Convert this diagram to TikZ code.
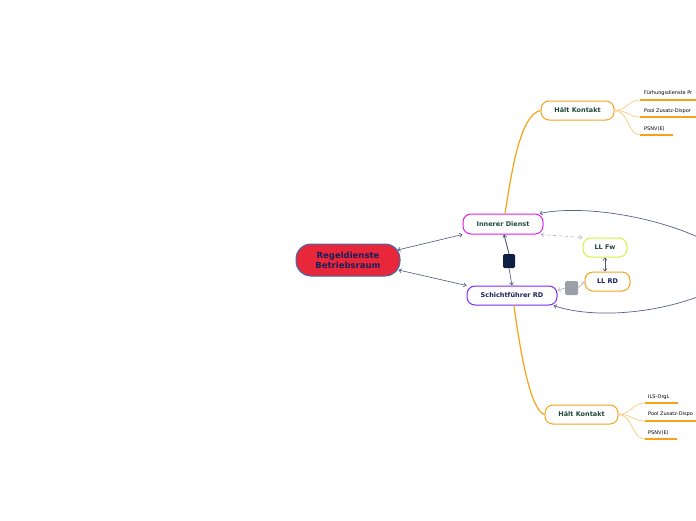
\documentclass[tikz,border=0pt]{standalone}
\usepackage{fontspec}
\setmainfont{DejaVu Sans}
\usetikzlibrary{arrows.meta}
\definecolor{edgec}{HTML}{4A5578}
\definecolor{loopc}{HTML}{56618A}
\definecolor{orangec}{HTML}{F7A21B}
\definecolor{lorange}{HTML}{FCCB7E}
\definecolor{rootred}{HTML}{E8273A}
\definecolor{rootblue}{HTML}{3B6FB0}
\definecolor{navyt}{HTML}{1A1F5A}
\definecolor{greent}{HTML}{1E4A3A}
\definecolor{magc}{HTML}{E11BE6}
\definecolor{purc}{HTML}{7B2CF5}
\definecolor{ylgc}{HTML}{D8F040}
\definecolor{sqnavy}{HTML}{0F1E45}
\definecolor{sqgray}{HTML}{9AA0A8}
\tikzset{
  topic/.style={draw, line width=1pt, rounded corners=8pt, fill=white, font=\bfseries\fontsize{6.5}{7}\selectfont, inner sep=0pt, align=center},
  leaf/.style={font=\fontsize{5}{6}\selectfont, anchor=south west, inner sep=0pt, text=black},
  rel/.style={draw=edgec, line width=0.6pt, {Straight Barb[length=2.5pt,width=4pt]}-{Straight Barb[length=2.5pt,width=4pt]}},
  relg/.style={draw=sqgray!80, line width=0.6pt, {Straight Barb[length=2.5pt,width=4pt]}-{Straight Barb[length=2.5pt,width=4pt]}},
  trunk/.style={draw=orangec, line width=1.2pt},
  twig/.style={draw=lorange, line width=0.7pt},
  uline/.style={draw=orangec, line width=1.2pt},
  sq/.style={rounded corners=1.5pt, inner sep=0pt}
}
\begin{document}
\begin{tikzpicture}[x=1pt,y=-1pt]
\fill[white] (0,0) rectangle (696,520);
\begin{scope}
\clip (0,0) rectangle (696,520);
% nodes
\node[topic, fill=rootred, draw=rootblue, text=navyt, rounded corners=15pt, minimum width=104pt, minimum height=32pt, font=\bfseries\fontsize{8.5}{10}\selectfont] (root) at (348,260) {Regeldienste\\Betriebsraum};
\node[topic, draw=magc, text=greent, minimum width=80pt, minimum height=20pt] (inner) at (503,224) {Innerer Dienst};
\node[topic, draw=purc, text=navyt, minimum width=90pt, minimum height=19pt] (schicht) at (512,295.5) {Schichtführer RD};
\node[topic, draw=ylgc, text=greent, minimum width=44pt, minimum height=19pt] (llfw) at (605,247.5) {LL Fw};
\node[topic, draw=orangec, text=navyt, minimum width=45pt, minimum height=19pt] (llrd) at (607.5,281.5) {LL RD};
\node[topic, draw=orangec, text=greent, minimum width=73pt, minimum height=19pt] (hk1) at (577.5,110.5) {Hält Kontakt};
\node[topic, draw=orangec, text=greent, minimum width=73pt, minimum height=19pt] (hk2) at (581.5,414.5) {Hält Kontakt};
\node[sq, fill=sqnavy, minimum width=12pt, minimum height=14pt] (sq1) at (509,261) {};
\node[sq, fill=sqgray, minimum width=13pt, minimum height=14pt] (sq2) at (571.5,288) {};
% leaves top
\coordinate (a1) at (640,100); \coordinate (a1e) at (697,100);
\coordinate (a2) at (640,117); \coordinate (a2e) at (697,117);
\coordinate (a3) at (640,135); \coordinate (a3e) at (673,135);
\node[leaf] (t1) at (644,96) {Fürhungsdienste Pr};
\node[leaf] (t2) at (644,113.5) {Pool Zusatz-Dispor};
\node[leaf] (t3) at (644,131.5) {PSNV(E)};
% leaves bottom
\coordinate (b1) at (645,403); \coordinate (b1e) at (678,403);
\coordinate (b2) at (645,421); \coordinate (b2e) at (697,421);
\coordinate (b3) at (645,439); \coordinate (b3e) at (677,439);
\node[leaf] (u1) at (648,399.5) {ILS-OrgL};
\node[leaf] (u2) at (648,417) {Pool Zusatz-Dispo};
\node[leaf] (u3) at (648,435.5) {PSNV(E)};
% orange trunks
\draw[trunk] (inner.north) ++(2,0) coordinate (i0) .. controls (512,170) and (520,115) .. (hk1.west);
\draw[trunk] (schicht.south) ++(2,0) coordinate (s0) .. controls (520,350) and (530,410) .. (hk2.west);
% twigs top
\draw[twig] (hk1.east) .. controls (628,110) and (628,100) .. (a1);
\draw[twig] (hk1.east) .. controls (628,110) and (628,117) .. (a2);
\draw[twig] (hk1.east) .. controls (628,110) and (628,135) .. (a3);
\draw[uline] (a1) -- (a1e); \draw[uline] (a2) -- (a2e); \draw[uline] (a3) -- (a3e);
% twigs bottom
\draw[twig] (hk2.east) .. controls (632,414) and (632,403) .. (b1);
\draw[twig] (hk2.east) .. controls (632,414) and (632,421) .. (b2);
\draw[twig] (hk2.east) .. controls (632,414) and (632,439) .. (b3);
\draw[uline] (b1) -- (b1e); \draw[uline] (b2) -- (b2e); \draw[uline] (b3) -- (b3e);
% relations
\draw[rel] (root.east) ++(-3,-10) coordinate (r1) -- (inner.south west);
\draw[rel] (root.east) ++(-2,10) coordinate (r2) -- (schicht.north west);
\draw[draw=edgec, line width=0.6pt] (inner.south) ++(1,0) coordinate (i1) -- (sq1.north);
\draw[draw=edgec, line width=0.6pt, -{Straight Barb[length=2.5pt,width=4pt]}] (sq1.south) -- (schicht.north);
\draw[draw=edgec, line width=0.6pt, -{Straight Barb[length=2.5pt,width=4pt]}] (sq1.north) -- (i1);
\draw[relg, dashed] (inner.south east) ++(-3,0) coordinate (i2) -- (llfw.north west);
\draw[rel] (llfw.south) -- (llrd.north -| llfw.south);
\coordinate (s4) at ([yshift=5pt]schicht.east);
\draw[draw=sqgray!80, line width=0.6pt, -{Straight Barb[length=2.5pt,width=4pt]}] (sq2.west) -- (s4);
\draw[draw=sqgray!80, line width=0.6pt, -{Straight Barb[length=2.5pt,width=4pt]}] (sq2.east) -- (llrd.west);
\coordinate (loopA) at (700,238);
\coordinate (loopB) at (700,296);
\draw[draw=loopc, line width=0.7pt, {Straight Barb[length=2.5pt,width=4pt]}-] (inner.north east) ++(-4,0) coordinate (i3) .. controls (580,205) and (650,215) .. (loopA);
\draw[draw=loopc, line width=0.7pt, {Straight Barb[length=2.5pt,width=4pt]}-] (schicht.south east) ++(-4,0) coordinate (s3) .. controls (590,318) and (650,315) .. (loopB);
\end{scope}
\pgfresetboundingbox
\useasboundingbox (0,0) rectangle (696,520);
\end{tikzpicture}
\end{document}
